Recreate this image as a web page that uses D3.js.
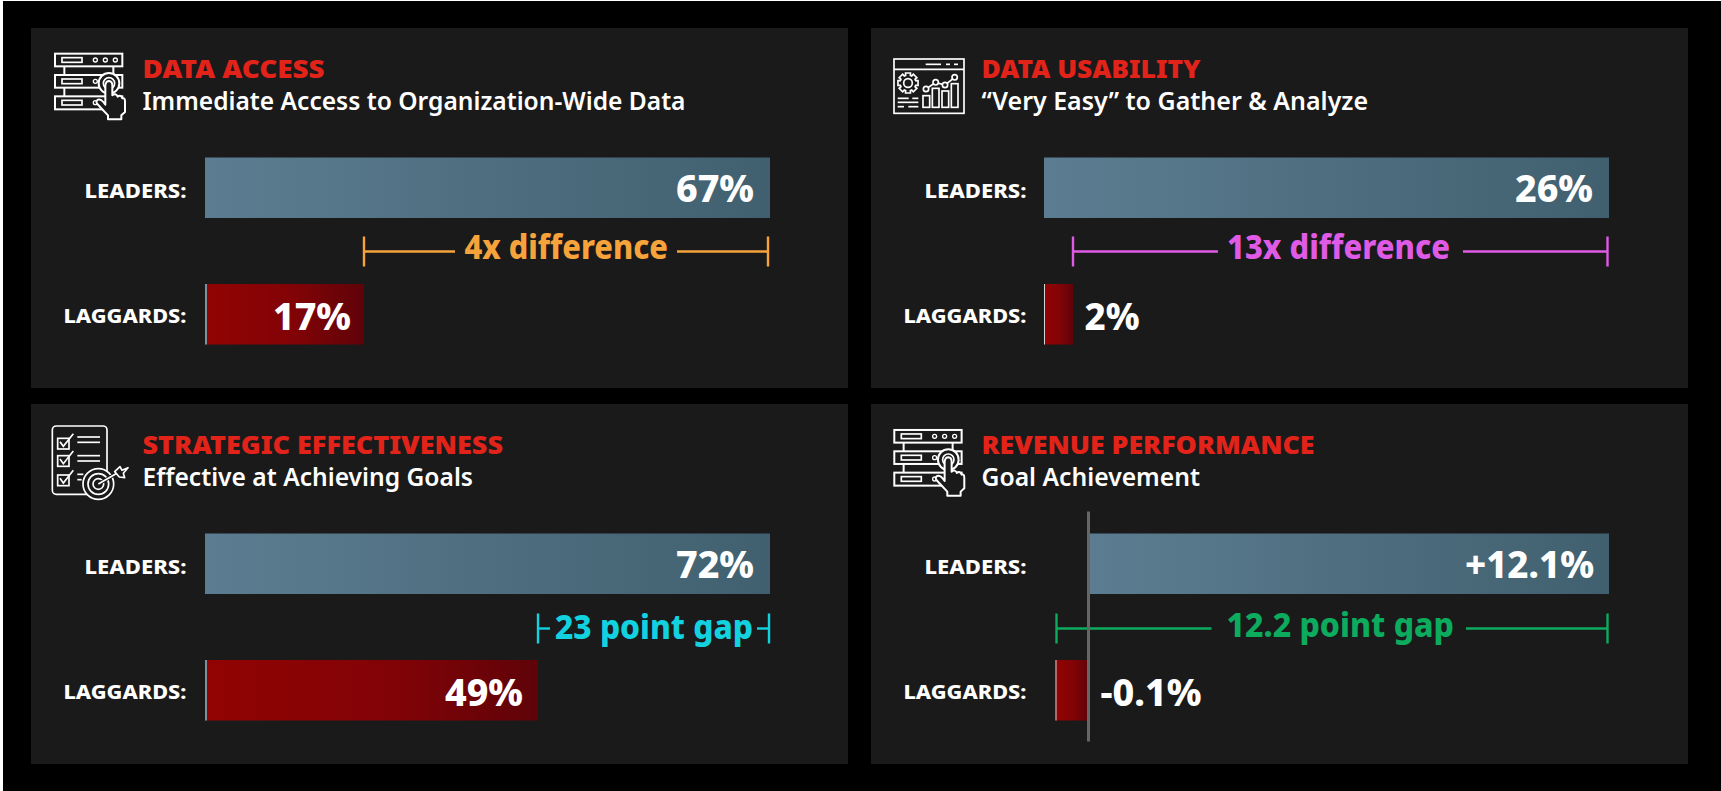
<!DOCTYPE html>
<html><head><meta charset="utf-8">
<script src="https://cdn.jsdelivr.net/npm/d3@7/dist/d3.min.js"></script>
<style>
html,body{margin:0;padding:0;background:#000;overflow:hidden}
svg{display:block}
text{font-family:"Noto Sans","Open Sans",sans-serif}
</style></head><body>
<script>
// ---- data ----
const panelTitles = ["DATA ACCESS","DATA USABILITY","STRATEGIC EFFECTIVENESS","REVENUE PERFORMANCE"];
const panelSubtitles = ["Immediate Access to Organization-Wide Data","“Very Easy” to Gather & Analyze","Effective at Achieving Goals","Goal Achievement"];
const groupLabels = ["LEADERS:","LAGGARDS:"];
const leaderValues = [67,26,72,12.1];
const laggardValues = [17,2,49,-0.1];
const baselineValues = [0,0,0,0];
const leaderLabels = ["67%","26%","72%","+12.1%"];
const laggardLabels = ["17%","2%","49%","-0.1%"];
const gapLabels = ["4x difference","13x difference","23 point gap","12.2 point gap"];
const gapColors = ["#f6a33c","#df5be6","#12d2e0","#0cab5e"];

// ---- layout (pixels, not data) ----
const W=1721,H=791,panelW=817,panelH=360;
const layout=[
 {x:31,y:28,tx:142.5,base:205,lagEnd:364,leadEnd:770,titleW:182,subW:543,gapTextX:464.5,gapTextW:203.5,segL:455,segR:677,gapL:364,gapR:768,gapY:251.5,gapBase:259,icon:0,ix:40,iy:40},
 {x:871,y:28,tx:981.5,base:1044,lagEnd:1073,leadEnd:1609,titleW:219,subW:386.5,gapTextX:1227,gapTextW:223,segL:1218,segR:1463,gapL:1073,gapR:1607.5,gapY:251.5,gapBase:259,icon:1,ix:880,iy:45},
 {x:31,y:404,tx:142.5,base:205,lagEnd:538,leadEnd:770,titleW:360.5,subW:330.5,gapTextX:555,gapTextW:198,segL:550,segR:757,gapL:538,gapR:769,gapY:628.5,gapBase:639,icon:2,ix:40,iy:415},
 {x:871,y:404,tx:981.5,base:1088.5,lagEnd:1055.5,leadEnd:1609,titleW:333,subW:218.5,gapTextX:1226.5,gapTextW:227.5,segL:1211.5,segR:1466,gapL:1056.5,gapR:1607.5,gapY:628.5,gapBase:637,icon:0,ix:879.3,iy:416.3}
];

const svg=d3.select("body").append("svg").attr("width",W).attr("height",H);
svg.append("rect").attr("width",W).attr("height",H).attr("fill","#000");
const defs=svg.append("defs");
function grad(id,stops){
  const g=defs.append("linearGradient").attr("id",id);
  stops.forEach(([o,c])=>g.append("stop").attr("offset",o).attr("stop-color",c));
}
grad("lead",[[0,"#5c7d91"],[1,"#41606f"]]);
grad("lag",[[0,"#920303"],[0.55,"#820306"],[1,"#5f0309"]]);

function txt(g,s,x,y,size,weight,fill,anchor,width){
  const t=g.append("text").attr("x",x).attr("y",y).attr("font-size",size).attr("font-weight",weight)
    .attr("fill",fill).attr("text-anchor",anchor||"start").text(s);
  if(width){t.attr("textLength",width).attr("lengthAdjust","spacingAndGlyphs");}
  return t;
}

const PANEL="#1a1a1a";
function iconServer(g){
  const s={fill:"none",stroke:"#fff","stroke-width":6};
  const ap=(sel,o)=>{Object.entries(o).forEach(([k,v])=>sel.attr(k,v));return sel;};
  [[41,38],[105,38],[169,39]].forEach(([y,h])=>{
    ap(g.append("rect").attr("x",45).attr("y",y).attr("width",202).attr("height",h),s);
    ap(g.append("rect").attr("x",66).attr("y",y+12).attr("width",60).attr("height",14),{fill:"none",stroke:"#fff","stroke-width":5});
  });
  [[73,79,105],[73,143,169],[220,79,105]].forEach(([x,a,b])=>ap(g.append("line").attr("x1",x).attr("x2",x).attr("y1",a).attr("y2",b),s));
  [166,196,226].forEach(x=>ap(g.append("circle").attr("cx",x).attr("cy",60).attr("r",6),{fill:"none",stroke:"#fff","stroke-width":4}));
  [[166,124],[166,188]].forEach(([x,y])=>ap(g.append("circle").attr("cx",x).attr("cy",y).attr("r",6),{fill:"none",stroke:"#fff","stroke-width":4}));
  ap(g.append("circle").attr("cx",207).attr("cy",130).attr("r",31),{fill:PANEL,stroke:"#fff","stroke-width":6});
  ap(g.append("circle").attr("cx",207).attr("cy",130).attr("r",17),{fill:"none",stroke:"#fff","stroke-width":5});
  ap(g.append("path").attr("d","M204 238 L204 226 L172 192 Q166 184 174 179 Q182 176 190 186 L196 194 L196 136 Q198 123 207 123 Q217 124 217 136 L217 166 Q227 158 233 170 Q242 163 247 175 Q255 172 255 185 L255 216 L244 226 L244 238 Z"),{fill:PANEL,stroke:"#fff","stroke-width":6,"stroke-linejoin":"round"});
}
function iconDash(g){
  const s={fill:"none",stroke:"#fff","stroke-width":5};
  const ap=(sel,o)=>{Object.entries(o).forEach(([k,v])=>sel.attr(k,v));return sel;};
  ap(g.append("rect").attr("x",42).attr("y",42).attr("width",210).attr("height",163),s);
  ap(g.append("line").attr("x1",42).attr("x2",252).attr("y1",73).attr("y2",73),s);
  [[137,183],[198,210],[222,234]].forEach(([a,b])=>ap(g.append("line").attr("x1",a).attr("x2",b).attr("y1",58).attr("y2",58),s));
  const pts=[];const cx=84,cy=114;
  for(let i=0;i<8;i++){
    const a=i*Math.PI/4;
    [[-.30,24],[-.24,31],[.24,31],[.30,24]].forEach(([d,r])=>pts.push([cx+r*Math.cos(a+d),cy+r*Math.sin(a+d)]));
  }
  ap(g.append("path").attr("d",d3.line().curve(d3.curveLinearClosed)(pts)),s);
  ap(g.append("circle").attr("cx",cx).attr("cy",cy).attr("r",13),s);
  [[129,152,20,35],[157,130,20,57],[186,138,20,49],[214,116,20,71]].forEach(([x,y,w,h])=>ap(g.append("rect").attr("x",x).attr("y",y).attr("width",w).attr("height",h),s));
  const lp=[[138,132],[167,112],[195,120],[224,97]];
  ap(g.append("path").attr("d",d3.line()(lp)).attr("fill","none"),s);
  lp.forEach(([x,y])=>ap(g.append("circle").attr("cx",x).attr("cy",y).attr("r",8),{fill:PANEL,stroke:"#fff","stroke-width":5}));
  [[53,86,160],[53,115,172],[53,72,185],[85,115,185],[97,115,160]].forEach(([a,b,y])=>ap(g.append("line").attr("x1",a).attr("x2",b).attr("y1",y).attr("y2",y),s));
}
function iconTarget(g){
  const s={fill:"none",stroke:"#fff","stroke-width":5};
  const ap=(sel,o)=>{Object.entries(o).forEach(([k,v])=>sel.attr(k,v));return sel;};
  ap(g.append("rect").attr("x",37).attr("y",33).attr("width",164).attr("height",205).attr("rx",12),s);
  [[70],[122],[180]].forEach(([y])=>{
    ap(g.append("rect").attr("x",53).attr("y",y).attr("width",34).attr("height",32),s);
    ap(g.append("path").attr("d",`M60 ${y+10} L70 ${y+24} L100 ${y-14}`),s);
  });
  [[112,180,66],[112,180,82],[112,180,122],[112,180,138],[112,130,178],[112,125,194]].forEach(([a,b,y])=>ap(g.append("line").attr("x1",a).attr("x2",b).attr("y1",y).attr("y2",y),s));
  ap(g.append("circle").attr("cx",175).attr("cy",207).attr("r",46),{fill:PANEL,stroke:"#fff","stroke-width":5});
  ap(g.append("circle").attr("cx",175).attr("cy",207).attr("r",31),s);
  ap(g.append("circle").attr("cx",175).attr("cy",207).attr("r",16),s);
  ap(g.append("path").attr("d","M175 207 L232 174"),{fill:"none",stroke:PANEL,"stroke-width":11});
  ap(g.append("path").attr("d","M175 207 L232 174"),s);
  ap(g.append("path").attr("d","M224 170 L240 155 L246 166 L264 158 L250 175 L254 188 L238 186 Z"),{fill:PANEL,stroke:"#fff","stroke-width":5,"stroke-linejoin":"round"});
}
const icons=[iconServer,iconDash,iconTarget];

layout.forEach((p,i)=>{
  const g=svg.append("g");
  g.append("rect").attr("x",p.x).attr("y",p.y).attr("width",panelW).attr("height",panelH).attr("fill",PANEL);

  icons[p.icon](g.append("g").attr("transform",`translate(${p.ix},${p.iy}) scale(${1/3})`));

  const right=p.x+155.5;
  txt(g,panelTitles[i],p.tx,p.y+49.5,25,900,"#e2231a","start",p.titleW);
  txt(g,panelSubtitles[i],p.tx,p.y+82,26,600,"#fff","start",p.subW);

  // each panel has its own piecewise axis, as the source bars do not share one scale
  const x=d3.scaleLinear()
    .domain([laggardValues[i],baselineValues[i],leaderValues[i]].sort(d3.ascending))
    .range(laggardValues[i]<0?[p.lagEnd,p.base,p.leadEnd]:[p.base,p.lagEnd,p.leadEnd]);
  const x0=x(baselineValues[i]);
  const rows=[{v:leaderValues[i],l:leaderLabels[i],g:"lead",y:p.y+129.5,h:60.5,lab:groupLabels[0],lw:102,ly:p.y+170,vb:p.y+174},
              {v:laggardValues[i],l:laggardLabels[i],g:"lag",y:p.y+256,h:60.5,lab:groupLabels[1],lw:123,ly:p.y+295,vb:p.y+301.5}];
  rows.forEach((r,k)=>{
    const a=Math.min(x(r.v),x0), b=Math.max(x(r.v),x0);
    g.append("rect").attr("x",a).attr("y",r.y).attr("width",b-a).attr("height",r.h).attr("fill",`url(#${r.g})`);
    if(k===1) g.append("rect").attr("x",a).attr("y",r.y).attr("width",i===3||i===1?1:2).attr("height",r.h).attr("fill",i===3||i===1?"#d5d5d5":"#7b929e");
    txt(g,r.lab,right,r.ly,20,800,"#fff","end",r.lw);
    const wide={"+12.1%":129,"-0.1%":101,"2%":55}[r.l]||78;
    if(r.v===laggardValues[i] && (i===1||i===3)){
      const vx=i===1?1084.5:1100.5;
      txt(g,r.l,vx,r.vb,37,800,"#fff","start",wide);
    } else {
      txt(g,r.l,x(r.v)-(k===0?(i===3?15:16):(i===0?13:15)),r.vb,37,800,"#fff","end",wide);
    }
  });

  const c=gapColors[i], br=g.append("g").attr("stroke",c).attr("stroke-width",2.4).attr("fill","none");
  [[p.gapL,p.segL],[p.segR,p.gapR]].forEach(([a,b])=>br.append("line").attr("x1",a).attr("x2",b).attr("y1",p.gapY).attr("y2",p.gapY));
  [p.gapL,p.gapR].forEach(v=>br.append("line").attr("x1",v).attr("x2",v).attr("y1",p.gapY-15).attr("y2",p.gapY+15));
  txt(g,gapLabels[i],p.gapTextX,p.gapBase,33,800,c,"start",p.gapTextW);

  if(i===3){
    g.append("line").attr("x1",x0).attr("x2",x0).attr("y1",511.5).attr("y2",741.5).attr("stroke","#666").attr("stroke-width",3);
  }
});
svg.append("rect").attr("width",W).attr("height",1).attr("fill","#fff");
svg.append("rect").attr("width",3).attr("height",H).attr("fill","#fff");
</script>
</body></html>
